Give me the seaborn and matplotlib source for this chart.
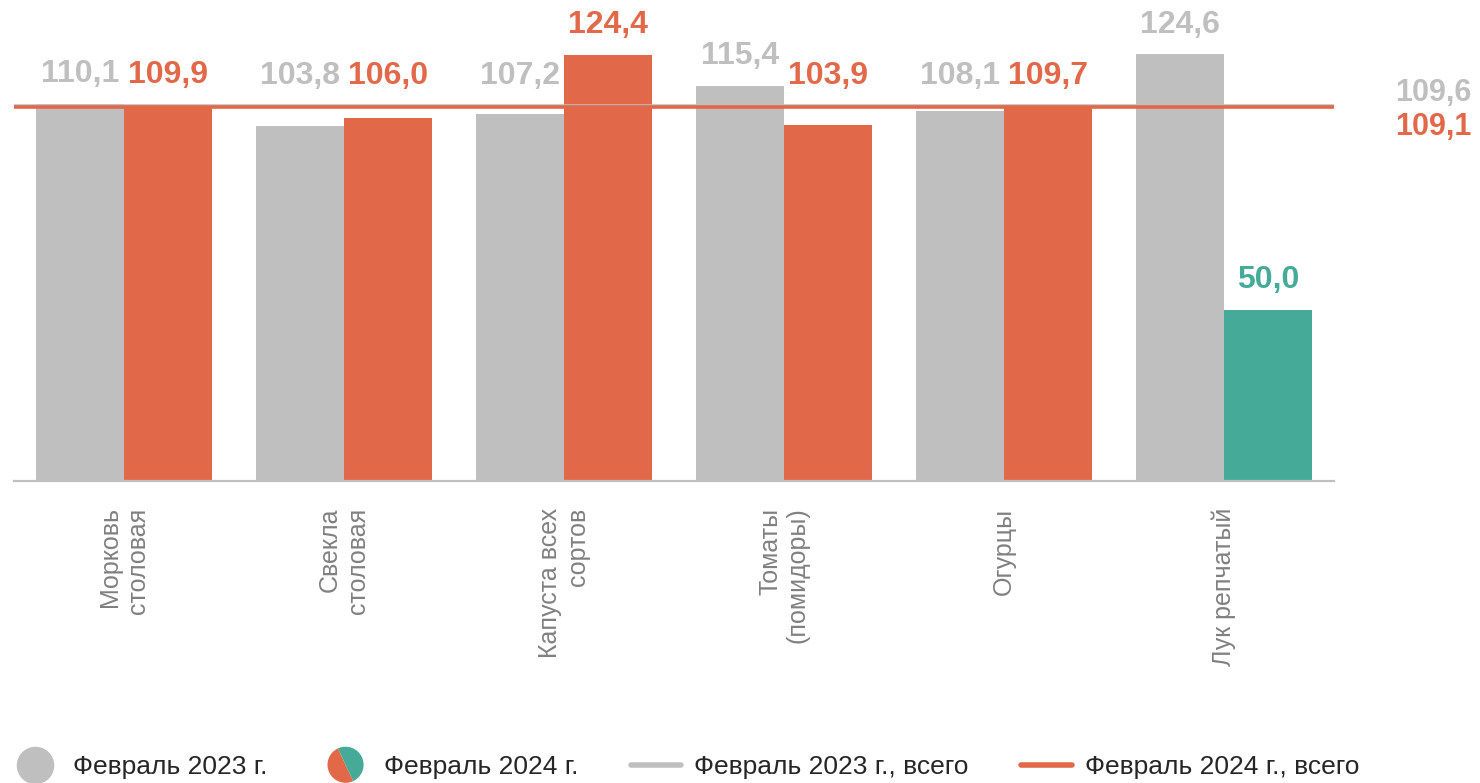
import matplotlib
matplotlib.use("Agg")
import matplotlib.pyplot as plt
import seaborn as sns
import pandas as pd
from matplotlib.legend_handler import HandlerBase
from matplotlib.patches import Wedge
from matplotlib.lines import Line2D

categories = ["Морковь\nстоловая", "Свекла\nстоловая", "Капуста всех\nсортов",
              "Томаты\n(помидоры)", "Огурцы", "Лук репчатый"]
feb_2023 = [110.1, 103.8, 107.2, 115.4, 108.1, 124.6]
feb_2024 = [109.9, 106.0, 124.4, 103.9, 109.7, 50.0]
total_2023 = 109.6
total_2024 = 109.1
series = ["Февраль 2023 г.", "Февраль 2024 г."]
totals_labels = ["Февраль 2023 г., всего", "Февраль 2024 г., всего"]

GRAY = "#BFBFBF"
RED = "#E2684A"
TEAL = "#45AB98"
TICK_COLOR = "#808080"
TEXT_COLOR = "#262626"

df = pd.DataFrame({
    "cat": categories * 2,
    "period": [series[0]] * len(categories) + [series[1]] * len(categories),
    "value": feb_2023 + feb_2024,
})

sns.set_theme(style="white")
plt.rcParams['font.family'] = ['Liberation Sans', 'DejaVu Sans']

fig = plt.figure(figsize=(14.8, 7.83), dpi=100)
ax = fig.add_axes([14 / 1480, 1 - 481 / 783, 1320 / 1480, 481 / 783])

sns.barplot(data=df, x="cat", y="value", hue="period", palette=[GRAY, RED],
            width=0.8, saturation=1, legend=False, linewidth=0, ax=ax)
ax.set_ylim(0, 140.5)

# drops below 100 are shown in teal
colors_2024 = [TEAL if v < 100 else RED for v in feb_2024]
for bar, c in zip(ax.containers[1], colors_2024):
    bar.set_facecolor(c)
    bar.set_edgecolor("none")
for bar in ax.containers[0]:
    bar.set_edgecolor("none")

ax.axhline(total_2023, color=GRAY, lw=2.6, zorder=3)
ax.axhline(total_2024, color=RED, lw=2.6, zorder=4)

top_line = max(total_2023, total_2024)
for container, vals, cols in [(ax.containers[0], feb_2023, [GRAY] * 6),
                              (ax.containers[1], feb_2024, colors_2024)]:
    for bar, v, c in zip(container, vals, cols):
        x = bar.get_x() + bar.get_width() / 2
        y = v + 8.7
        if abs(y - top_line) < 9:  # keep labels clear of the total lines
            y = top_line + 8.7
        ax.text(x, y, f"{v:.1f}".replace(".", ","), ha="center", va="center",
                fontsize=23, fontweight="bold", color=c)

ax.annotate(f"{total_2023:.1f}".replace(".", ","), xy=(1.075, total_2023),
            xycoords=ax.get_yaxis_transform(), xytext=(0, 13), textcoords="offset pixels",
            ha="center", va="center", fontsize=22, fontweight="bold", color=GRAY,
            annotation_clip=False)
ax.annotate(f"{total_2024:.1f}".replace(".", ","), xy=(1.075, total_2024),
            xycoords=ax.get_yaxis_transform(), xytext=(0, -20), textcoords="offset pixels",
            ha="center", va="center", fontsize=22, fontweight="bold", color=RED,
            annotation_clip=False)

ax.set_xticks(range(len(categories)))
ax.set_xticklabels(categories, rotation=90, ha="center", va="top",
                   multialignment="right", color=TICK_COLOR, fontsize=18)
ax.tick_params(axis="x", length=0, pad=19)
ax.set_yticks([])
ax.set_xlabel("")
ax.set_ylabel("")
for s in ["left", "top", "right"]:
    ax.spines[s].set_visible(False)
ax.spines["bottom"].set_color(GRAY)
ax.spines["bottom"].set_linewidth(1.6)


class PieKey:
    pass


class PieHandler(HandlerBase):
    def create_artists(self, legend, orig_handle, xdescent, ydescent,
                       width, height, fontsize, trans):
        cx = width / 2 - xdescent
        cy = height / 2 - ydescent
        r = 13
        w1 = Wedge((cx, cy), r, 115, 295, facecolor=RED, edgecolor="none", transform=trans)
        w2 = Wedge((cx, cy), r, -65, 115, facecolor=TEAL, edgecolor="none", transform=trans)
        return [w1, w2]


handles = [
    Line2D([], [], marker="o", ls="", markersize=26, color=GRAY),
    PieKey(),
    Line2D([], [], color=GRAY, lw=4),
    Line2D([], [], color=RED, lw=4),
]
labels = series + totals_labels
fig.legend(handles, labels, handler_map={PieKey: PieHandler()},
           loc="center left", bbox_to_anchor=(10 / 1480, 1 - 767 / 783), ncol=4,
           frameon=False, fontsize=19, labelcolor=TEXT_COLOR,
           handlelength=1.9, handletextpad=0.5, columnspacing=2.0,
           borderaxespad=0, borderpad=0)

fig.savefig("out.png", dpi=100)
